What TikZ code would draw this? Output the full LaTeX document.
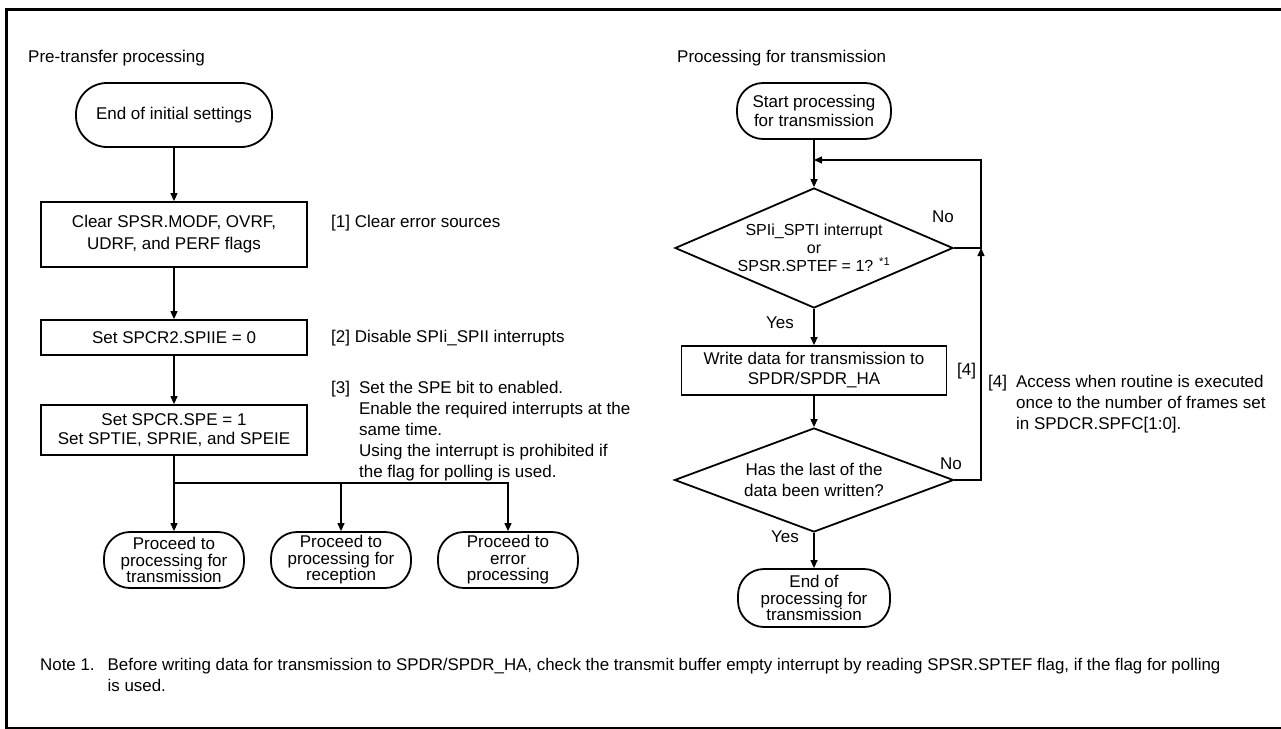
\documentclass[tikz,border=0pt]{standalone}
\usepackage{fontspec}
\setmainfont{Liberation Sans}
\usepackage{tikz}
\usetikzlibrary{arrows.meta,positioning,shapes.geometric}

\tikzset{
  txt/.style={font=\fontsize{17}{20}\selectfont},
  term/.style={txt, draw, line width=1.8pt, align=center, inner sep=0pt, rounded corners=26pt},
  proc/.style={txt, draw, line width=1.8pt, align=center, inner sep=0pt},
  dec/.style={txt, draw, diamond, line width=1.8pt, align=center, inner sep=0pt},
  anno/.style={txt, anchor=base west, inner sep=0pt},
  flow/.style={line width=1.2pt, -{Triangle[length=8pt,width=7pt]}},
  wire/.style={line width=1.2pt},
}

\begin{document}
\begin{tikzpicture}[x=1pt,y=-1pt]
    \useasboundingbox (0,0) rectangle (1281,728);
    \draw[line width=3pt] (6.5,9.5) rectangle (1300,728);

    % Nodes: pre-transfer processing
    \node[anno] (ttlpre) at (28,62) {Pre-transfer processing};
    \node[term, minimum width=196pt, minimum height=64pt, rounded corners=31pt] (init) at (174,115) {End of initial settings};
    \node[proc, minimum width=266pt, minimum height=65pt, font=\fontsize{17}{22}\selectfont] (clr) at (174,234.5) {Clear SPSR.MODF, OVRF,\\UDRF, and PERF flags};
    \node[proc, minimum width=266pt, minimum height=35pt] (dis) at (174,337.5) {Set SPCR2.SPIIE = 0};
    \node[proc, minimum width=266pt, minimum height=50pt, font=\fontsize{17}{19}\selectfont] (ena) at (174,430) {Set SPCR.SPE = 1\\Set SPTIE, SPRIE, and SPEIE};
    \coordinate (br) at (174,483);
    \node[term, minimum width=140pt, minimum height=56pt, font=\fontsize{17}{16.5}\selectfont] (ptx) at (174,560) {Proceed to\\processing for\\transmission};
    \node[term, minimum width=140pt, minimum height=56pt, font=\fontsize{17}{16.5}\selectfont] (prx) at (341,560) {Proceed to\\processing for\\reception};
    \node[term, minimum width=140pt, minimum height=56pt, font=\fontsize{17}{16.5}\selectfont] (perr) at (508,560) {Proceed to\\error\\processing};

    \node[anno] (n1) at (331,227) {[1] Clear error sources};
    \node[anno] (n2) at (331,342) {[2] Disable SPIi\_SPII interrupts};
    \node[anno, font=\fontsize{17}{21}\selectfont] (n3) at (331,393) {\begin{tabular}[t]{@{}l@{\hspace{9pt}}l@{}}
      [3] & Set the SPE bit to enabled.\\
          & Enable the required interrupts at the\\
          & same time.\\
          & Using the interrupt is prohibited if\\
          & the flag for polling is used.
    \end{tabular}};

    % Nodes: processing for transmission
    \node[anno] (ttltx) at (677,62) {Processing for transmission};
    \node[term, minimum width=154pt, minimum height=56pt, font=\fontsize{17}{19}\selectfont] (start) at (814,111) {Start processing\\for transmission};
    \coordinate (loop) at (814,160);
    \node[dec, aspect=2.32, minimum width=278pt, minimum height=120pt, font=\fontsize{16}{18}\selectfont] (q1) at (814,248) {SPIi\_SPTI interrupt\\or\\SPSR.SPTEF = 1? \textsuperscript{*1}};
    \node[proc, minimum width=265pt, minimum height=49pt] (wr) at (814,370.5) {Write data for transmission to\\SPDR/SPDR\_HA};
    \node[dec, aspect=2.68, minimum width=279pt, minimum height=104pt, font=\fontsize{17}{21}\selectfont] (q2) at (814,480) {Has the last of the\\data been written?};
    \node[term, minimum width=152pt, minimum height=58pt, font=\fontsize{17}{16.7}\selectfont] (fin) at (814,598) {End of\\processing for\\transmission};
    \coordinate (r0) at (981,160);
    \coordinate (r1) at (981,248);
    \coordinate (r2) at (981,480);

    \node[txt] (no1) at (943,217) {No};
    \node[txt] (yes1) at (780,323) {Yes};
    \node[txt] (no2) at (951,464) {No};
    \node[txt] (yes2) at (785,537) {Yes};
    \node[anno] (n4a) at (957,375) {[4]};
    \node[anno, font=\fontsize{17}{21}\selectfont] (n4) at (988,387) {\begin{tabular}[t]{@{}l@{\hspace{9pt}}l@{}}
      [4] & Access when routine is executed\\
          & once to the number of frames set\\
          & in SPDCR.SPFC[1:0].
    \end{tabular}};

    % Note
    \node[anno, font=\fontsize{16.9}{21}\selectfont] (note) at (40,670) {\begin{tabular}[t]{@{}l@{\hspace{13pt}}l@{}}
      Note 1. & Before writing data for transmission to SPDR/SPDR\_HA, check the transmit buffer empty interrupt by reading SPSR.SPTEF flag, if the flag for polling\\
              & is used.
    \end{tabular}};

    % Arrows: pre-transfer processing
    \draw[flow] (init) -- (clr);
    \draw[flow] (clr) -- (dis);
    \draw[flow] (dis) -- (ena);
    \draw[wire] (ena) -- (br);
    \draw[flow] (br) -- (ptx);
    \draw[flow] (br) -| (prx);
    \draw[flow] (br) -| (perr);

    % Arrows: processing for transmission
    \draw[wire] (start) -- (loop);
    \draw[flow] (loop) -- (q1);
    \draw[flow] (q1) -- (wr);
    \draw[flow] (wr) -- (q2);
    \draw[flow] (q2) -- (fin);
    \draw[flow] (q2.east) -- (r2) -- (r1);
    \draw[flow] (q1.east) -- (r1) -- (r0) -- (loop);
\end{tikzpicture}
\end{document}
